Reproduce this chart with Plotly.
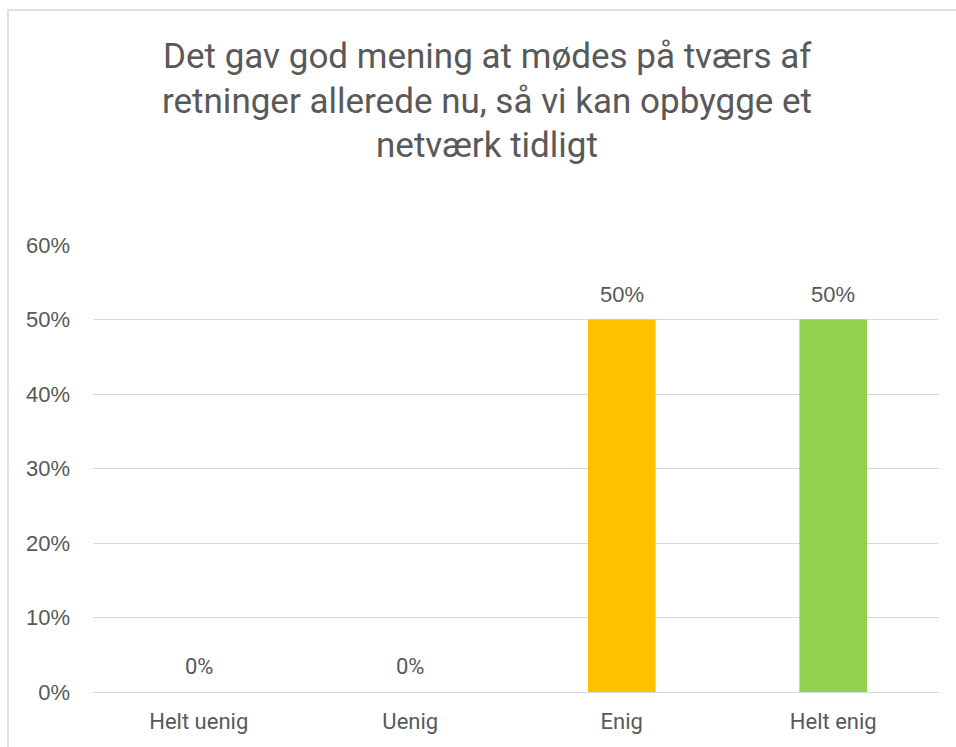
import plotly.graph_objects as go

# Survey answers and their shares
categories = ["Helt uenig", "Uenig", "Enig", "Helt enig"]
shares = [0.0, 0.0, 0.5, 0.5]
bar_colors = ["#4472C4", "#ED7D31", "#FFC000", "#92D050"]
title_lines = [
    "Det gav god mening at mødes på tværs af",
    "retninger allerede nu, så vi kan opbygge et",
    "netværk tidligt",
]
y_ticks = [0, 0.1, 0.2, 0.3, 0.4, 0.5, 0.6]
y_ticklabels = ["0%", "10%", "20%", "30%", "40%", "50%", "60%"]

W, H = 956, 747
ML, MR, MT, MB = 93, 17, 245, 55
PW, PH = W - ML - MR, H - MT - MB

TEXT = "#595959"
GRID = "#d9d9d9"
SANS = "Liberation Sans, Arial, sans-serif"
ALT = "Roboto, Liberation Sans, sans-serif"

fig = go.Figure(
    go.Bar(
        x=categories,
        y=shares,
        marker=dict(color=bar_colors, line=dict(width=0)),
        width=0.32,
        hoverinfo="skip",
    )
)

# value labels above each bar
for cat, v in zip(categories, shares):
    fig.add_annotation(
        x=cat, y=v, xref="x", yref="y",
        text=f"{v:.0%}", showarrow=False,
        yanchor="bottom", yshift=11,
        font=dict(family=SANS if v > 0 else ALT, size=22, color=TEXT),
    )

# title, one annotation per line, centred on the frame
title_cx = (487 - ML) / PW
for i, line in enumerate(title_lines):
    ypx = 57 + 44 * i
    fig.add_annotation(
        x=title_cx, xref="paper",
        y=1 + (MT - ypx) / PH, yref="paper",
        xanchor="center", yanchor="middle",
        text=line, showarrow=False,
        font=dict(family=ALT, size=35, color=TEXT),
    )

# chart frame
fig.add_shape(
    type="rect", xref="paper", yref="paper",
    x0=(8 - ML) / PW, x1=(W + 20 - ML) / PW,
    y0=(MT + PH - (H + 20)) / PH, y1=1 + (MT - 10) / PH,
    line=dict(color=GRID, width=1.5), fillcolor="rgba(0,0,0,0)",
    layer="below",
)

fig.update_layout(
    width=W, height=H,
    margin=dict(l=ML, r=MR, t=MT, b=MB, pad=0),
    paper_bgcolor="white", plot_bgcolor="white",
    showlegend=False,
    bargap=0.68,
    xaxis=dict(
        showgrid=False, zeroline=False, showline=False, ticks="",
        tickfont=dict(family=ALT, size=22, color=TEXT),
        ticklabelstandoff=14,
    ),
    yaxis=dict(
        range=[0, 0.6], tickvals=y_ticks, ticktext=y_ticklabels,
        showgrid=True, gridcolor=GRID, gridwidth=1,
        zeroline=True, zerolinecolor=GRID, zerolinewidth=1,
        showline=False, ticks="",
        tickfont=dict(family=SANS, size=22, color=TEXT),
        ticklabelstandoff=22,
    ),
)

fig.write_html("out.html")
